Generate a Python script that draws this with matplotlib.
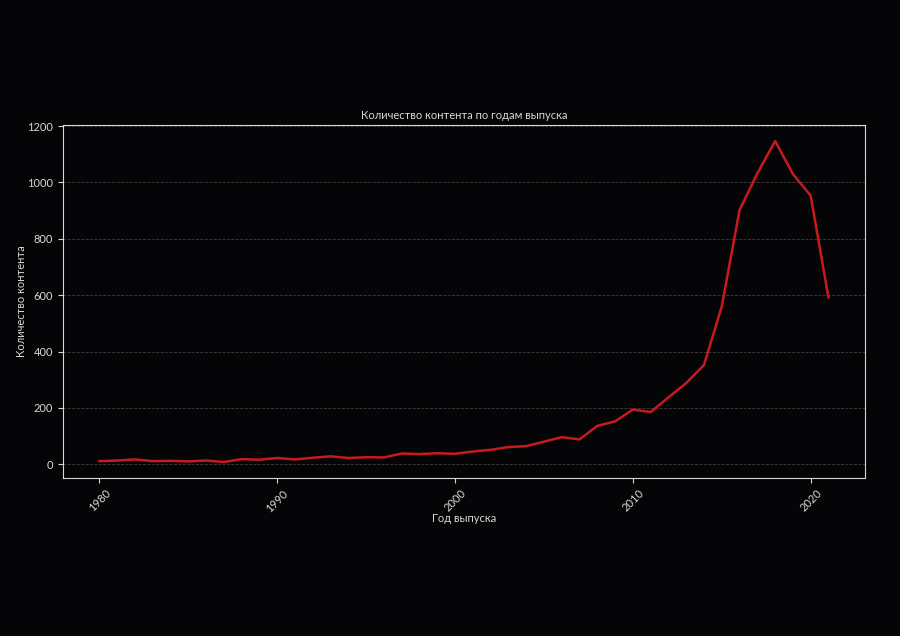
import matplotlib
matplotlib.use("Agg")
import matplotlib.pyplot as plt

years = list(range(1980, 2022))
counts = [11, 13, 17, 11, 12, 10, 13, 8, 18, 16,
          22, 17, 23, 28, 22, 25, 24, 38, 36, 39,
          37, 45, 51, 61, 64, 80, 96, 88, 136, 152,
          194, 185, 237, 288, 352, 560, 902, 1032, 1147, 1030,
          953, 592]

bg = "#050508"
fg = "#d8d8d8"

plt.rcParams.update({
    "font.family": ["Lato", "DejaVu Sans"],
    "font.size": 8,
})

fig = plt.figure(figsize=(9, 6.36), dpi=100, facecolor=bg)
ax = fig.add_axes([0.07, 0.2484, 0.891, 0.5551])
ax.set_facecolor(bg)

ax.plot(years, counts, color="#c8191e", linewidth=1.8)

ax.set_title("Количество контента по годам выпуска", color=fg, fontsize=8, pad=4.5)
ax.set_xlabel("Год выпуска", color=fg, fontsize=8, labelpad=-1)
ax.set_ylabel("Количество контента", color=fg, fontsize=8, labelpad=0.5)

ax.set_xticks([1980, 1990, 2000, 2010, 2020])
ax.set_yticks([0, 200, 400, 600, 800, 1000, 1200])
ax.tick_params(colors=fg, labelsize=8)
plt.setp(ax.get_xticklabels(), rotation=45)

for s in ax.spines.values():
    s.set_color(fg)
    s.set_linewidth(0.8)

ax.grid(axis="y", linestyle="--", color="#555555", linewidth=0.6, alpha=0.7)
ax.set_axisbelow(True)

fig.savefig("out.png", facecolor=bg)
